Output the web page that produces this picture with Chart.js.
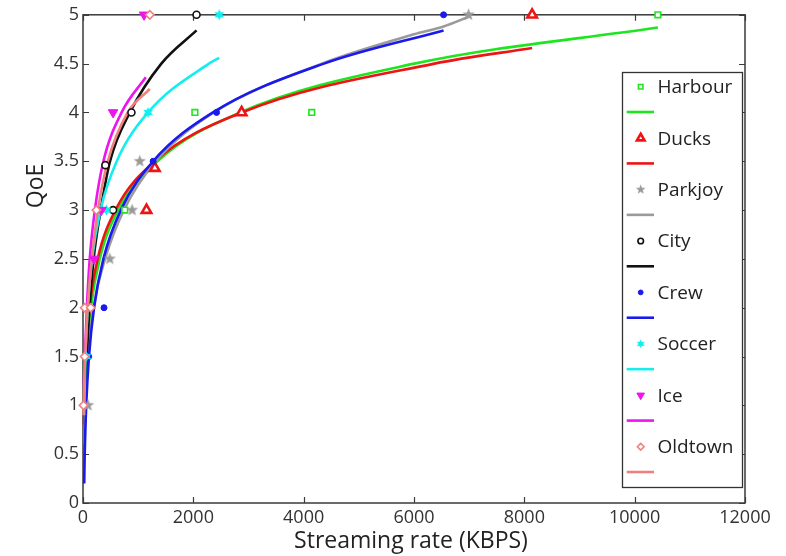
<!DOCTYPE html>
<html><head><meta charset="utf-8">
<script src="https://cdn.jsdelivr.net/npm/chart.js@4/dist/chart.umd.min.js"></script>
<style>html,body{margin:0;padding:0;background:#fff;}#wrap{width:786px;height:556px;position:relative;}</style>
</head><body><div id="wrap"><canvas id="c" width="786" height="556"></canvas></div>
<script>
// ---- data ----
const categories = ['Harbour','Ducks','Parkjoy','City','Crew','Soccer','Ice','Oldtown'];
const xTicks = [0, 2000, 4000, 6000, 8000, 10000, 12000];
const yTicks = [0, 0.5, 1, 1.5, 2, 2.5, 3, 3.5, 4, 4.5, 5];

// measured (marker) points
const harbourX = [757, 2028, 4146, 10421];       const harbourY = [3, 4, 4, 5];
const ducksX   = [1151, 1302, 2875, 8141];       const ducksY   = [3, 3.43, 4, 5];
const parkjoyX = [91, 485, 890, 1029, 6990];     const parkjoyY = [1, 2.5, 3, 3.5, 5];
const cityX    = [545, 406, 878, 2058];          const cityY    = [3, 3.46, 4, 5];
const crewX    = [103, 381, 1271, 2421, 6536];   const crewY    = [1.5, 2, 3.5, 4, 5];
const soccerX  = [62, 425, 1180, 2470];          const soccerY  = [1.5, 3, 4, 5];
const iceX     = [200, 334, 545, 1107];          const iceY     = [2.5, 3, 4, 5];
const oldtownX = [10, 31, 31, 140, 243, 1211];   const oldtownY = [1, 1.5, 2, 2, 3, 5];

// fitted curves
const harbourFitX = [24, 32, 68, 144, 303, 640, 1350, 2847, 6007, 10421];
const harbourFitY = [0.8, 1, 1.5, 2, 2.5, 3, 3.5, 4, 4.5, 4.87];
const ducksFitX   = [18, 25, 54, 120, 266, 589, 1302, 2880, 6370, 8141];
const ducksFitY   = [0.8, 1, 1.5, 2, 2.5, 3, 3.5, 4, 4.5, 4.66];
const parkjoyFitX = [30, 45, 90, 190, 400, 740, 1320, 2370, 4330, 6000, 6536, 6990];
const parkjoyFitY = [0.6, 1, 1.5, 2, 2.5, 3, 3.5, 4, 4.5, 4.8, 4.88, 4.98];
const cityFitX    = [42, 70, 116, 192, 320, 490, 850, 1420, 2058];
const cityFitY    = [1, 1.5, 2, 2.5, 3, 3.5, 4, 4.5, 4.84];
const crewFitX    = [22, 31, 58, 108, 200, 370, 686, 1271, 2356, 4368, 6536];
const crewFitY    = [0.2, 0.5, 1, 1.5, 2, 2.5, 3, 3.5, 4, 4.5, 4.84];
const soccerFitX  = [20, 23, 44, 85, 164, 317, 611, 1180, 2283, 2470];
const soccerFitY  = [0.9, 1, 1.5, 2, 2.5, 3, 3.5, 4, 4.5, 4.56];
const iceFitX     = [15, 35, 70, 122, 215, 370, 700, 1138];
const iceFitY     = [1.2, 1.5, 2, 2.5, 3, 3.5, 4, 4.36];
const oldtownFitX = [10, 20, 40, 85, 160, 270, 450, 810, 1211];
const oldtownFitY = [0.9, 1.2, 1.5, 2, 2.5, 3, 3.5, 4, 4.24];

// ---- styling ----
const colors = ['#1ee61e', '#ee1414', '#9a9a9a', '#111111', '#1a1aee', '#14eeee', '#ee14ee', '#f08080'];

function makeStar(n, rO, rI, fill) {
  const s = Math.ceil(rO * 2 + 2);
  const c = document.createElement('canvas');
  c.width = s; c.height = s;
  const g = c.getContext('2d');
  g.translate(s / 2, s / 2);
  g.beginPath();
  for (let k = 0; k < 2 * n; k++) {
    const r = k % 2 === 0 ? rO : rI;
    const a = -Math.PI / 2 + k * Math.PI / n;
    if (k === 0) g.moveTo(r * Math.cos(a), r * Math.sin(a)); else g.lineTo(r * Math.cos(a), r * Math.sin(a));
  }
  g.closePath();
  g.fillStyle = fill; g.fill();
  return c;
}
const pentagram = makeStar(5, 6.5, 2.7, colors[2]);
const hexagram = makeStar(6, 5.5, 3, colors[5]);

const markerStyles = [
  { pointStyle: 'rect', radius: 4, rotation: 0, bg: '#ffffff', bw: 1.6 },
  { pointStyle: 'triangle', radius: 5.5, rotation: 0, bg: '#ffffff', bw: 2.6 },
  { pointStyle: pentagram, radius: 6, rotation: 0, bg: colors[2], bw: 0 },
  { pointStyle: 'circle', radius: 3.5, rotation: 0, bg: '#ffffff', bw: 1.6 },
  { pointStyle: 'circle', radius: 3, rotation: 0, bg: colors[4], bw: 1 },
  { pointStyle: hexagram, radius: 5, rotation: 0, bg: colors[5], bw: 0 },
  { pointStyle: 'triangle', radius: 5.5, rotation: 180, bg: colors[6], bw: 1 },
  { pointStyle: 'rectRot', radius: 4.2, rotation: 0, bg: '#ffffff', bw: 1.6 }
];

const markerX = [harbourX, ducksX, parkjoyX, cityX, crewX, soccerX, iceX, oldtownX];
const markerY = [harbourY, ducksY, parkjoyY, cityY, crewY, soccerY, iceY, oldtownY];
const fitX = [harbourFitX, ducksFitX, parkjoyFitX, cityFitX, crewFitX, soccerFitX, iceFitX, oldtownFitX];
const fitY = [harbourFitY, ducksFitY, parkjoyFitY, cityFitY, crewFitY, soccerFitY, iceFitY, oldtownFitY];

const zip = (xs, ys) => xs.map((x, i) => ({ x: x, y: ys[i] }));

const datasets = [];
categories.forEach((name, i) => {
  const m = markerStyles[i];
  datasets.push({
    label: name, data: zip(markerX[i], markerY[i]), showLine: false,
    pointStyle: m.pointStyle, pointRadius: m.radius, pointRotation: m.rotation,
    pointBackgroundColor: m.bg, pointBorderColor: colors[i], pointBorderWidth: m.bw,
    clip: false, order: 7 - i
  });
});
categories.forEach((name, i) => {
  datasets.push({
    label: name + ' fit', data: zip(fitX[i], fitY[i]), showLine: true,
    borderColor: colors[i], borderWidth: 2.6, pointRadius: 0, fill: false,
    cubicInterpolationMode: 'monotone', clip: 6, order: 20 + (7 - i)
  });
});

const FONT = '"Open Sans", "DejaVu Sans", sans-serif';

const framePlugin = {
  id: 'frame',
  beforeDatasetsDraw(chart) {
    const { ctx, chartArea: a, scales } = chart;
    ctx.save();
    ctx.strokeStyle = '#3a3a3a'; ctx.lineWidth = 1.5;
    ctx.strokeRect(a.left, a.top, a.right - a.left, a.bottom - a.top);
    ctx.lineWidth = 1.2;
    ctx.beginPath();
    xTicks.forEach(v => {
      const px = Math.round(scales.x.getPixelForValue(v)) + 0.5;
      ctx.moveTo(px, a.bottom); ctx.lineTo(px, a.bottom - 6);
      ctx.moveTo(px, a.top); ctx.lineTo(px, a.top + 6);
    });
    yTicks.forEach(v => {
      const py = Math.round(scales.y.getPixelForValue(v)) + 0.5;
      ctx.moveTo(a.left, py); ctx.lineTo(a.left + 6, py);
      ctx.moveTo(a.right, py); ctx.lineTo(a.right - 6, py);
    });
    ctx.stroke();
    ctx.restore();
  },
  afterDraw(chart) {
    const { ctx } = chart;
    ctx.save();
    // axis titles
    ctx.fillStyle = '#222';
    ctx.font = '23px ' + FONT;
    ctx.textAlign = 'center'; ctx.textBaseline = 'middle';
    ctx.fillText('Streaming rate (KBPS)', 411, 541);
    ctx.translate(36, 186); ctx.rotate(-Math.PI / 2);
    ctx.fillText('QoE', 0, 0);
    ctx.restore();

    // legend box
    ctx.save();
    const bx = 622, by = 72, bw = 120, bh = 415;
    ctx.fillStyle = '#fff'; ctx.fillRect(bx, by, bw, bh);
    ctx.strokeStyle = '#333'; ctx.lineWidth = 1.3;
    ctx.strokeRect(bx + 0.5, by + 0.5, bw, bh);
    categories.forEach((name, i) => {
      const ym = 86.7 + i * 51.43;
      const yl = ym + 25.3;
      const m = markerStyles[i];
      ctx.fillStyle = m.bg; ctx.strokeStyle = colors[i]; ctx.lineWidth = m.bw;
      if (typeof m.pointStyle === 'string') {
        Chart.helpers.drawPoint(ctx, { pointStyle: m.pointStyle, radius: m.radius * 0.8, rotation: m.rotation, borderWidth: m.bw }, 640.7, ym);
      } else {
        const w = m.pointStyle.width * 0.8;
        ctx.drawImage(m.pointStyle, 640.7 - w / 2, ym - w / 2, w, w);
      }
      ctx.strokeStyle = colors[i]; ctx.lineWidth = 2.6;
      ctx.beginPath(); ctx.moveTo(626.7, yl); ctx.lineTo(654, yl); ctx.stroke();
      ctx.fillStyle = '#222'; ctx.font = '19px ' + FONT;
      ctx.textAlign = 'left'; ctx.textBaseline = 'middle';
      ctx.fillText(name, 657.5, ym + 1);
    });
    ctx.restore();
  }
};

new Chart(document.getElementById('c'), {
  type: 'scatter',
  data: { datasets: datasets },
  options: {
    responsive: false, animation: false, devicePixelRatio: 1,
    layout: { padding: { top: 13, right: 41, left: 0, bottom: 0 } },
    plugins: { legend: { display: false }, tooltip: { enabled: false } },
    scales: {
      x: {
        type: 'linear', min: 0, max: 12000,
        afterFit: s => { s.height = 53; },
        afterBuildTicks: s => { s.ticks = xTicks.map(v => ({ value: v })); },
        grid: { display: false, drawTicks: false }, border: { display: false },
        ticks: { color: '#333', font: { size: 18, family: FONT }, padding: 4, callback: v => String(v), maxRotation: 0 }
      },
      y: {
        type: 'linear', min: 0, max: 5,
        afterFit: s => { s.width = 83; },
        afterBuildTicks: s => { s.ticks = yTicks.map(v => ({ value: v })); },
        grid: { display: false, drawTicks: false }, border: { display: false },
        ticks: { color: '#333', font: { size: 18, family: FONT }, padding: 4, callback: v => String(v) }
      }
    }
  },
  plugins: [framePlugin]
});
</script></body></html>
